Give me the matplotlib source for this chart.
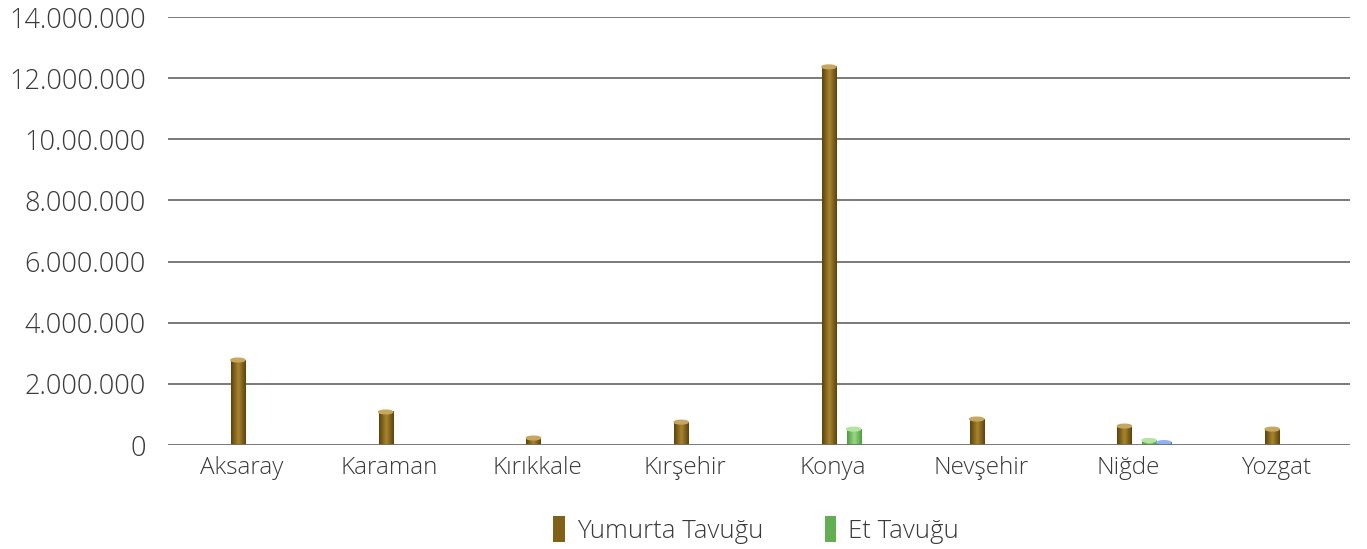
import numpy as np
import matplotlib.pyplot as plt
from matplotlib.patches import Ellipse, Rectangle
from matplotlib.colors import LinearSegmentedColormap

cities = ['Aksaray', 'Karaman', 'Kırıkkale', 'Kırşehir', 'Konya', 'Nevşehir', 'Niğde', 'Yozgat']
yumurta = [2780000, 1080000, 230000, 750000, 12370000, 850000, 620000, 520000]
et = [0, 0, 0, 0, 520000, 0, 150000, 0]
diger = [0, 0, 0, 0, 0, 0, 80000, 0]
yticks = [0, 2000000, 4000000, 6000000, 8000000, 10000000, 12000000, 14000000]
ylabels = ['0', '2.000.000', '4.000.000', '6.000.000', '8.000.000', '10.00.000', '12.000.000', '14.000.000']

plt.rcParams['font.family'] = ['Open Sans', 'DejaVu Sans']
txtc = '#3a3a3a'

fig = plt.figure(figsize=(13.67, 5.49), dpi=100)
ax = fig.add_axes([0.1229, 0.1894, 0.8647, 0.7796])

ymax = 14000000
cap_h = 0.12e6
width = 0.095

def cmap_for(dark, light):
    return LinearSegmentedColormap.from_list('c', [dark, light, dark])

series = [
    (yumurta, -0.027, cmap_for('#5e420c', '#a8862f'), '#c7a760'),
    (et, 0.14, cmap_for('#4f9a42', '#9ad886'), '#b2e6a0'),
    (diger, 0.24, cmap_for('#2a5aa8', '#6f9be0'), '#8fb4ec'),
]

x = np.arange(len(cities))
grad = np.linspace(0, 1, 64).reshape(1, -1)
for vals, off, cm, capc in series:
    for xi, v in zip(x, vals):
        if v <= 0:
            continue
        x0 = xi + off - width / 2
        ax.imshow(grad, cmap=cm, extent=(x0, x0 + width, 0, v),
                  aspect='auto', zorder=3, interpolation='bilinear')
        ax.add_patch(Ellipse((xi + off, v), width, cap_h, color=capc, zorder=4))

ax.set_xlim(-0.5, len(cities) - 0.5)
ax.set_ylim(0, ymax)
ax.set_yticks(yticks)
ax.set_yticklabels(ylabels, fontsize=19.5, color=txtc, fontweight='light')
ax.set_xticks(x)
ax.set_xticklabels(cities, fontsize=17.5, color=txtc, fontweight='light')
ax.tick_params(axis='y', length=0, pad=16)
ax.tick_params(axis='x', length=0, pad=8)
for t in yticks[1:]:
    ax.axhline(t, color='#707070', lw=1.3, zorder=1)
ax.axhline(0, color='#707070', lw=1.3, zorder=5)
for s in ax.spines.values():
    s.set_visible(False)

h1 = Rectangle((0, 0), 1, 1, facecolor='#7f6118')
h2 = Rectangle((0, 0), 1, 1, facecolor='#63ad52')
leg = fig.legend([h1, h2], ['Yumurta Tavuğu', 'Et Tavuğu'], loc='center',
                 bbox_to_anchor=(0.553, 0.035), ncol=2, frameon=False,
                 fontsize=18.5, handlelength=0.45, handleheight=1.2,
                 handletextpad=0.45, columnspacing=2.4)
for t in leg.get_texts():
    t.set_color(txtc)
    t.set_fontweight('light')

fig.savefig('out.png', dpi=100)
